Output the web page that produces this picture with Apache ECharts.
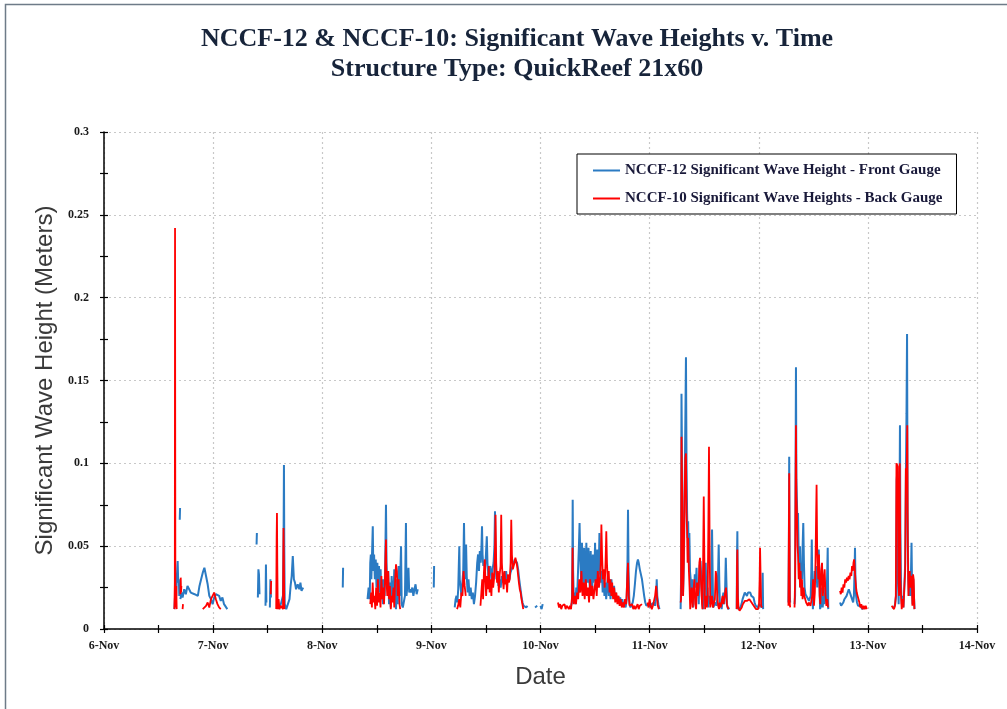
<!DOCTYPE html>
<html>
<head>
<meta charset="utf-8">
<script src="https://cdn.jsdelivr.net/npm/echarts@6/dist/echarts.min.js"></script>
<style>
  html, body { margin: 0; padding: 0; background: #fff; }
  #chart { width: 1007px; height: 709px; }
</style>
</head>
<body>
<div id="chart"></div>
<script>
// time is in days of November, '-' marks a gap in the record
var frontGauge = [
  [6.645,0.012],[6.655,0.025],[6.662,0.02],[6.668,0.032],[6.675,0.041],[6.68,0.028],[6.686,0.03],[6.69,0.02],[6.692,'-'],
  [6.694,0.066],[6.697,0.073],[6.699,'-'],
  [6.70,0.018],[6.71,0.022],[6.72,0.019],[6.735,0.024],[6.75,0.021],[6.765,0.026],[6.78,0.025],[6.795,0.022],[6.81,0.023],
  [6.83,0.021],[6.845,0.022],[6.86,0.02],[6.875,0.026],[6.89,0.03],[6.905,0.034],[6.92,0.037],[6.935,0.032],[6.95,0.027],
  [6.965,0.02],[6.98,0.018],[6.995,0.015],[7.01,0.019],[7.025,0.021],[7.04,0.022],[7.055,0.02],[7.07,0.017],[7.085,0.019],
  [7.10,0.015],[7.115,0.016],[7.13,0.012],[7.14,'-'],
  [7.398,0.051],[7.401,0.058],[7.404,'-'],
  [7.41,0.019],[7.415,0.036],[7.42,0.033],[7.425,0.021],[7.43,'-'],
  [7.48,0.014],[7.484,0.039],[7.488,0.016],[7.492,'-'],
  [7.52,0.013],[7.525,0.03],[7.53,0.019],[7.535,'-'],
  [7.60,0.012],[7.62,0.015],[7.64,0.02],[7.646,0.06],[7.649,0.099],[7.652,0.05],[7.656,0.015],[7.67,0.012],[7.685,0.013],
  [7.70,0.018],[7.71,0.026],[7.72,0.032],[7.73,0.044],[7.74,0.03],[7.75,0.028],[7.76,0.024],[7.775,0.027],[7.79,0.024],
  [7.80,0.028],[7.81,0.023],[7.825,0.025],[7.83,'-'],
  [8.188,0.025],[8.191,0.037],[8.194,'-'],
  [8.415,0.018],[8.425,0.025],[8.435,0.018],[8.44,0.04],[8.445,0.045],[8.45,0.03],[8.458,0.05],[8.463,0.062],[8.468,0.035],
  [8.475,0.045],[8.482,0.03],[8.49,0.042],[8.497,0.025],[8.505,0.04],[8.512,0.02],[8.52,0.038],[8.528,0.022],[8.535,0.036],
  [8.542,0.018],[8.55,0.03],[8.557,0.015],[8.565,0.03],[8.572,0.02],[8.579,0.05],[8.584,0.075],[8.589,0.04],[8.597,0.025],
  [8.605,0.035],[8.612,0.015],[8.62,0.028],[8.628,0.013],[8.636,0.032],[8.644,0.02],[8.652,0.018],[8.66,0.036],[8.668,0.016],
  [8.676,0.012],[8.684,0.03],[8.692,0.015],[8.70,0.038],[8.708,0.02],[8.716,0.035],[8.722,0.05],[8.728,0.015],[8.738,0.013],
  [8.748,0.014],[8.758,0.02],[8.767,0.064],[8.772,0.02],[8.78,0.026],[8.79,0.037],[8.797,0.022],[8.805,0.024],[8.815,0.022],
  [8.825,0.025],[8.835,0.02],[8.845,0.024],[8.855,0.027],[8.865,0.021],[8.875,0.024],[8.88,'-'],
  [9.022,0.025],[9.025,0.038],[9.028,'-'],
  [9.214,0.013],[9.222,0.018],[9.23,0.02],[9.238,0.016],[9.246,0.024],[9.252,0.04],[9.256,0.05],[9.26,0.03],[9.268,0.025],
  [9.276,0.02],[9.284,0.028],[9.292,0.035],[9.299,0.064],[9.304,0.04],[9.312,0.03],[9.318,0.051],[9.324,0.032],[9.332,0.022],
  [9.34,0.03],[9.35,0.02],[9.36,0.025],[9.37,0.018],[9.38,0.022],[9.39,0.015],[9.40,0.02],[9.41,0.028],[9.42,0.04],
  [9.428,0.045],[9.436,0.035],[9.444,0.047],[9.452,0.04],[9.459,0.05],[9.464,0.062],[9.469,0.045],[9.476,0.038],[9.484,0.04],
  [9.492,0.035],[9.50,0.045],[9.508,0.056],[9.514,0.04],[9.522,0.032],[9.53,0.035],[9.54,0.038],[9.55,0.03],[9.56,0.036],
  [9.57,0.04],[9.578,0.05],[9.583,0.071],[9.588,0.04],[9.596,0.03],[9.605,0.033],[9.615,0.026],[9.625,0.03],[9.635,0.025],
  [9.645,0.032],[9.655,0.028],[9.665,0.034],[9.675,0.03],[9.685,0.035],[9.695,0.028],[9.705,0.032],[9.715,0.03],[9.725,0.034],
  [9.735,0.036],[9.745,0.038],[9.755,0.04],[9.765,0.042],[9.775,0.043],[9.785,0.04],[9.795,0.036],[9.805,0.03],[9.815,0.025],
  [9.825,0.02],[9.835,0.016],[9.845,0.014],[9.86,0.015],[9.87,0.013],[9.88,0.014],[9.885,'-'],
  [9.95,0.013],[9.96,0.012],[9.97,0.014],[9.975,'-'],
  [10.00,0.014],[10.01,0.012],[10.02,0.015],[10.025,'-'],
  [10.28,0.014],[10.288,0.016],[10.292,0.04],[10.295,0.078],[10.299,0.035],[10.305,0.018],[10.313,0.022],[10.32,0.015],
  [10.328,0.025],[10.336,0.02],[10.344,0.035],[10.352,0.05],[10.358,0.064],[10.364,0.045],[10.372,0.03],[10.38,0.052],
  [10.386,0.035],[10.394,0.025],[10.40,0.049],[10.406,0.03],[10.414,0.022],[10.42,0.052],[10.426,0.034],[10.434,0.028],
  [10.44,0.049],[10.446,0.03],[10.454,0.024],[10.46,0.047],[10.466,0.03],[10.474,0.022],[10.48,0.045],[10.486,0.028],
  [10.494,0.032],[10.50,0.052],[10.506,0.03],[10.514,0.026],[10.52,0.048],[10.526,0.03],[10.534,0.035],[10.54,0.058],
  [10.546,0.04],[10.554,0.028],[10.562,0.035],[10.57,0.022],[10.578,0.03],[10.586,0.02],[10.594,0.028],[10.602,0.018],
  [10.61,0.026],[10.618,0.032],[10.626,0.02],[10.634,0.025],[10.642,0.018],[10.65,0.03],[10.658,0.022],[10.666,0.02],
  [10.674,0.026],[10.682,0.018],[10.69,0.022],[10.70,0.017],[10.71,0.02],[10.72,0.016],[10.73,0.019],[10.74,0.015],
  [10.75,0.018],[10.76,0.014],[10.77,0.016],[10.78,0.013],[10.79,0.018],[10.797,0.04],[10.802,0.072],[10.807,0.035],
  [10.815,0.015],[10.825,0.013],[10.835,0.014],[10.845,0.016],[10.855,0.02],[10.865,0.027],[10.875,0.035],[10.885,0.04],
  [10.893,0.042],[10.90,0.04],[10.91,0.036],[10.92,0.035],[10.93,0.03],[10.94,0.025],[10.95,0.02],[10.96,0.016],[10.97,0.014],
  [10.98,0.013],[10.99,0.015],[11.00,0.014],[11.01,0.013],[11.02,0.015],[11.03,0.014],[11.04,0.016],[11.05,0.014],[11.06,0.02],
  [11.065,0.03],[11.07,0.02],[11.08,0.015],[11.09,0.012],[11.095,'-'],
  [11.284,0.012],[11.288,0.03],[11.292,0.142],[11.296,0.11],[11.30,0.06],[11.305,0.02],[11.31,0.03],[11.316,0.05],[11.322,0.09],
  [11.328,0.13],[11.333,0.164],[11.338,0.1],[11.343,0.072],[11.348,0.055],[11.353,0.065],[11.358,0.045],[11.364,0.058],
  [11.37,0.035],[11.376,0.03],[11.382,0.02],[11.39,0.03],[11.398,0.013],[11.406,0.02],[11.414,0.033],[11.422,0.025],
  [11.43,0.037],[11.436,0.02],[11.442,0.028],[11.45,0.015],[11.458,0.038],[11.466,0.041],[11.474,0.03],[11.482,0.015],
  [11.49,0.012],[11.498,0.02],[11.506,0.035],[11.514,0.04],[11.522,0.014],[11.53,0.025],[11.538,0.013],[11.546,0.02],
  [11.554,0.015],[11.562,0.018],[11.568,0.035],[11.572,0.06],[11.577,0.035],[11.582,0.013],[11.59,0.014],[11.598,0.013],
  [11.606,0.016],[11.614,0.014],[11.622,0.02],[11.628,0.035],[11.633,0.051],[11.638,0.03],[11.645,0.013],[11.652,0.015],
  [11.66,0.012],[11.668,0.018],[11.676,0.022],[11.684,0.015],[11.692,0.025],[11.698,0.043],[11.703,0.03],[11.71,0.014],
  [11.72,0.012],[11.73,0.013],[11.738,'-'],
  [11.798,0.012],[11.801,0.045],[11.804,0.059],[11.807,0.03],[11.812,0.012],[11.822,0.011],[11.832,0.013],[11.842,0.015],
  [11.852,0.018],[11.862,0.02],[11.872,0.022],[11.882,0.021],[11.892,0.02],[11.902,0.022],[11.912,0.021],[11.922,0.022],
  [11.932,0.02],[11.942,0.021],[11.952,0.019],[11.962,0.016],[11.972,0.014],[11.982,0.015],[11.992,0.013],[12.002,0.015],
  [12.012,0.014],[12.02,0.016],[12.026,0.013],[12.032,0.02],[12.036,0.034],[12.04,0.012],[12.045,'-'],
  [12.272,0.016],[12.276,0.05],[12.279,0.104],[12.282,0.06],[12.285,0.02],[12.288,0.016],[12.29,'-'],
  [12.328,0.015],[12.333,0.02],[12.337,0.09],[12.341,0.158],[12.345,0.09],[12.35,0.077],[12.355,0.06],[12.36,0.07],
  [12.366,0.045],[12.372,0.035],[12.378,0.05],[12.384,0.025],[12.39,0.04],[12.396,0.03],[12.402,0.05],[12.408,0.064],
  [12.414,0.04],[12.42,0.025],[12.428,0.021],[12.436,0.02],[12.444,0.019],[12.452,0.018],[12.46,0.017],[12.468,0.016],
  [12.476,0.02],[12.482,0.035],[12.486,0.054],[12.49,0.03],[12.496,0.012],[12.504,0.02],[12.512,0.035],[12.52,0.03],
  [12.528,0.038],[12.536,0.025],[12.544,0.04],[12.55,0.048],[12.556,0.03],[12.562,0.012],[12.57,0.014],[12.578,0.025],
  [12.586,0.013],[12.594,0.02],[12.602,0.015],[12.61,0.025],[12.618,0.018],[12.626,0.03],[12.632,0.049],[12.637,0.012],[12.64,'-'],
  [12.745,0.016],[12.755,0.014],[12.765,0.015],[12.775,0.016],[12.785,0.018],[12.795,0.019],[12.805,0.02],[12.815,0.022],
  [12.825,0.024],[12.835,0.022],[12.845,0.02],[12.855,0.018],[12.865,0.016],[12.872,0.02],[12.878,0.035],[12.882,0.049],
  [12.886,0.03],[12.892,0.02],[12.90,0.016],[12.91,0.014],[12.92,0.013],[12.93,0.014],[12.94,0.013],[12.95,0.012],[12.96,0.013],[12.97,'-'],
  [13.22,0.013],[13.23,0.014],[13.24,0.013],[13.25,0.015],[13.258,0.02],[13.264,0.09],[13.27,0.095],[13.276,0.03],[13.282,0.015],
  [13.288,0.05],[13.294,0.123],[13.298,0.06],[13.304,0.025],[13.31,0.015],[13.318,0.02],[13.326,0.013],[13.334,0.025],
  [13.342,0.04],[13.348,0.09],[13.354,0.13],[13.359,0.178],[13.364,0.07],[13.37,0.03],[13.376,0.02],[13.382,0.035],
  [13.388,0.02],[13.394,0.03],[13.40,0.052],[13.405,0.025],[13.41,0.015],[13.416,0.03],[13.422,0.02],[13.428,0.012],[13.432,'-']
];

var backGauge = [
  [6.645,0.012],[6.649,0.028],[6.651,0.242],[6.654,0.02],[6.658,0.013],[6.662,0.026],[6.666,0.012],[6.672,'-'],
  [6.70,0.021],[6.703,0.031],[6.706,0.022],[6.709,0.026],[6.712,'-'],
  [6.72,0.012],[6.724,0.015],[6.728,'-'],
  [6.905,0.012],[6.92,0.013],[6.935,0.014],[6.95,0.016],[6.965,0.013],[6.98,0.018],[6.995,0.02],[7.01,0.022],[7.025,0.018],
  [7.04,0.015],[7.055,0.013],[7.07,0.012],[7.08,'-'],
  [7.528,0.021],[7.532,0.029],[7.536,'-'],
  [7.578,0.012],[7.582,0.055],[7.585,0.07],[7.588,0.04],[7.592,0.012],[7.60,0.018],[7.608,0.012],[7.62,0.014],[7.64,0.012],
  [7.645,0.061],[7.648,0.045],[7.652,0.012],[7.66,'-'],
  [8.44,0.015],[8.448,0.022],[8.455,0.013],[8.462,0.028],[8.47,0.016],[8.478,0.02],[8.486,0.012],[8.494,0.025],[8.502,0.014],
  [8.51,0.03],[8.518,0.016],[8.526,0.022],[8.534,0.013],[8.542,0.032],[8.55,0.018],[8.558,0.025],[8.566,0.015],[8.574,0.028],
  [8.58,0.045],[8.584,0.054],[8.588,0.03],[8.596,0.02],[8.604,0.035],[8.612,0.018],[8.62,0.026],[8.628,0.012],[8.636,0.02],
  [8.644,0.016],[8.652,0.025],[8.66,0.013],[8.668,0.03],[8.676,0.039],[8.684,0.035],[8.692,0.02],[8.70,0.03],[8.708,0.015],
  [8.714,0.012],[8.72,'-'],
  [9.235,0.012],[9.245,0.014],[9.255,0.018],[9.265,0.013],[9.275,0.022],[9.285,0.02],[9.295,0.035],[9.305,0.026],[9.315,0.02],[9.325,'-'],
  [9.45,0.014],[9.458,0.022],[9.466,0.03],[9.474,0.018],[9.482,0.035],[9.49,0.042],[9.496,0.028],[9.502,0.02],[9.51,0.032],
  [9.518,0.024],[9.526,0.038],[9.534,0.022],[9.542,0.03],[9.55,0.02],[9.558,0.034],[9.566,0.025],[9.574,0.03],[9.582,0.045],
  [9.588,0.069],[9.594,0.04],[9.602,0.028],[9.61,0.035],[9.618,0.022],[9.626,0.033],[9.634,0.038],[9.64,0.069],[9.646,0.04],
  [9.654,0.03],[9.662,0.024],[9.67,0.035],[9.678,0.027],[9.686,0.03],[9.694,0.022],[9.702,0.033],[9.71,0.028],[9.718,0.03],
  [9.726,0.04],[9.732,0.066],[9.738,0.045],[9.746,0.036],[9.754,0.038],[9.762,0.04],[9.77,0.043],[9.778,0.042],[9.786,0.038],
  [9.794,0.033],[9.802,0.028],[9.81,0.024],[9.818,0.022],[9.826,0.018],[9.834,0.015],[9.842,0.012],[9.85,'-'],
  [10.16,0.016],[10.17,0.013],[10.18,0.015],[10.19,0.012],[10.20,0.014],[10.21,0.013],[10.22,0.015],[10.23,0.012],[10.24,0.014],
  [10.25,0.013],[10.26,0.012],[10.27,0.014],[10.28,0.012],[10.29,0.02],[10.294,0.049],[10.298,0.025],[10.305,0.015],
  [10.315,0.02],[10.325,0.015],[10.335,0.022],[10.345,0.018],[10.355,0.03],[10.365,0.022],[10.375,0.035],[10.385,0.02],
  [10.395,0.028],[10.405,0.018],[10.415,0.03],[10.425,0.02],[10.435,0.025],[10.445,0.016],[10.455,0.03],[10.465,0.02],
  [10.475,0.026],[10.485,0.018],[10.495,0.024],[10.505,0.03],[10.515,0.02],[10.525,0.035],[10.535,0.025],[10.545,0.03],
  [10.552,0.04],[10.558,0.063],[10.564,0.045],[10.572,0.03],[10.58,0.036],[10.588,0.025],[10.596,0.04],[10.603,0.059],
  [10.609,0.04],[10.617,0.028],[10.625,0.035],[10.633,0.022],[10.641,0.03],[10.649,0.02],[10.657,0.028],[10.665,0.018],
  [10.675,0.025],[10.685,0.016],[10.695,0.022],[10.705,0.015],[10.715,0.02],[10.725,0.014],[10.735,0.018],[10.745,0.013],
  [10.755,0.016],[10.765,0.013],[10.775,0.018],[10.785,0.015],[10.795,0.03],[10.802,0.04],[10.808,0.02],[10.818,0.014],
  [10.83,0.013],[10.84,0.015],[10.85,0.012],[10.86,0.014],[10.87,0.012],[10.88,0.013],[10.89,0.015],[10.90,0.012],
  [10.91,0.014],[10.92,0.013],[10.93,0.015],[10.94,'-'],
  [10.98,0.016],[10.99,0.013],[11.00,0.018],[11.01,0.014],[11.02,0.012],[11.03,0.014],[11.04,0.017],[11.05,0.02],[11.06,0.026],
  [11.067,0.02],[11.075,0.014],[11.085,0.012],[11.09,'-'],
  [11.284,0.016],[11.288,0.018],[11.292,0.116],[11.297,0.09],[11.302,0.05],[11.307,0.02],[11.313,0.04],[11.32,0.08],
  [11.327,0.103],[11.333,0.106],[11.338,0.07],[11.343,0.06],[11.348,0.04],[11.353,0.055],[11.36,0.035],[11.366,0.025],
  [11.372,0.012],[11.378,0.02],[11.386,0.025],[11.394,0.013],[11.402,0.022],[11.41,0.03],[11.418,0.015],[11.426,0.012],
  [11.434,0.028],[11.442,0.02],[11.45,0.025],[11.456,0.04],[11.462,0.043],[11.468,0.042],[11.476,0.02],[11.484,0.012],
  [11.49,0.04],[11.496,0.08],[11.502,0.04],[11.508,0.012],[11.516,0.02],[11.524,0.013],[11.532,0.02],[11.538,0.06],
  [11.544,0.11],[11.55,0.05],[11.556,0.013],[11.564,0.012],[11.572,0.02],[11.58,0.013],[11.59,0.012],[11.598,0.018],
  [11.606,0.035],[11.612,0.032],[11.62,0.02],[11.628,0.014],[11.636,0.012],[11.644,0.016],[11.652,0.013],[11.66,0.012],
  [11.668,0.02],[11.676,0.015],[11.684,0.018],[11.692,0.022],[11.70,0.025],[11.708,0.015],[11.716,0.013],[11.724,0.012],
  [11.73,0.013],[11.735,'-'],
  [11.798,0.012],[11.801,0.04],[11.804,0.048],[11.808,0.02],[11.814,0.013],[11.824,0.011],[11.834,0.012],[11.844,0.013],
  [11.854,0.015],[11.864,0.016],[11.874,0.017],[11.884,0.016],[11.894,0.017],[11.904,0.016],[11.914,0.018],[11.924,0.017],
  [11.934,0.016],[11.944,0.015],[11.954,0.014],[11.964,0.013],[11.974,0.012],[11.984,0.013],[11.994,0.012],[12.002,0.014],
  [12.008,0.03],[12.012,0.049],[12.016,0.035],[12.022,0.014],[12.03,0.013],[12.035,'-'],
  [12.272,0.014],[12.276,0.06],[12.279,0.094],[12.282,0.05],[12.285,0.015],[12.288,0.013],[12.29,'-'],
  [12.328,0.013],[12.333,0.03],[12.337,0.08],[12.341,0.123],[12.345,0.08],[12.35,0.07],[12.355,0.05],[12.36,0.045],
  [12.366,0.03],[12.372,0.04],[12.378,0.025],[12.384,0.035],[12.39,0.02],[12.396,0.03],[12.402,0.018],[12.41,0.025],
  [12.418,0.02],[12.426,0.018],[12.434,0.016],[12.442,0.015],[12.45,0.014],[12.458,0.016],[12.466,0.015],[12.474,0.014],
  [12.482,0.013],[12.49,0.02],[12.498,0.03],[12.506,0.014],[12.514,0.022],[12.52,0.04],[12.526,0.07],[12.53,0.087],
  [12.535,0.05],[12.54,0.04],[12.546,0.03],[12.552,0.045],[12.558,0.02],[12.564,0.015],[12.572,0.035],[12.58,0.04],
  [12.588,0.02],[12.596,0.03],[12.604,0.036],[12.612,0.02],[12.62,0.014],[12.628,0.018],[12.634,0.013],[12.64,'-'],
  [12.745,0.023],[12.752,0.021],[12.76,0.025],[12.768,0.022],[12.776,0.027],[12.784,0.025],[12.792,0.03],[12.80,0.028],
  [12.808,0.031],[12.816,0.029],[12.824,0.032],[12.832,0.03],[12.84,0.034],[12.848,0.032],[12.855,0.038],[12.862,0.035],
  [12.868,0.04],[12.874,0.042],[12.88,0.036],[12.886,0.03],[12.892,0.025],[12.898,0.022],[12.906,0.02],[12.914,0.018],
  [12.922,0.016],[12.93,0.013],[12.94,0.015],[12.95,0.012],[12.96,0.014],[12.97,0.012],[12.98,0.014],[12.99,0.012],[12.995,'-'],
  [13.218,0.014],[13.225,0.013],[13.232,0.015],[13.24,0.012],[13.248,0.014],[13.256,0.02],[13.262,0.1],[13.268,0.1],
  [13.274,0.098],[13.28,0.03],[13.286,0.02],[13.292,0.1],[13.298,0.03],[13.304,0.02],[13.31,0.012],[13.318,0.018],
  [13.326,0.013],[13.334,0.025],[13.342,0.035],[13.348,0.097],[13.354,0.09],[13.361,0.123],[13.366,0.05],[13.372,0.02],
  [13.378,0.03],[13.384,0.035],[13.39,0.025],[13.396,0.032],[13.402,0.03],[13.408,0.014],[13.414,0.033],[13.42,0.03],
  [13.426,0.012],[13.432,'-']
];

var seriesNames = [
  'NCCF-12 Significant Wave Height - Front Gauge',
  'NCCF-10 Significant Wave Heights - Back Gauge'
];
var monthTag = 'Nov';

var serif = '"Liberation Serif", "DejaVu Serif", serif';
var chart = echarts.init(document.getElementById('chart'));

// Excel draws "cross" ticks, so each axis gets a second copy with inside ticks
function tickAxisX(inside) {
  return {
    type: 'value', min: 6, max: 14, interval: 1, position: 'bottom',
    axisLine: { show: !inside, lineStyle: { color: '#000', width: 1.5 } },
    axisTick: { show: true, inside: inside, length: 4, lineStyle: { color: '#000', width: 1.2 } },
    minorTick: { show: true, splitNumber: 2, length: 4, lineStyle: { color: '#000', width: 1.2 } },
    axisLabel: { show: false },
    splitLine: { show: false }
  };
}
function tickAxisY(inside) {
  return {
    type: 'value', min: 0, max: 0.3, interval: 0.05, position: 'left',
    axisLine: { show: !inside, lineStyle: { color: '#000', width: 1.5 } },
    axisTick: { show: true, inside: inside, length: 4, lineStyle: { color: '#000', width: 1.2 } },
    minorTick: { show: true, splitNumber: 2, length: 4, lineStyle: { color: '#000', width: 1.2 } },
    axisLabel: { show: false },
    splitLine: { show: false }
  };
}

var xMain = tickAxisX(false);
xMain.name = 'Date';
xMain.nameLocation = 'middle';
xMain.nameGap = 36;
xMain.nameTextStyle = { fontFamily: '"Liberation Sans", sans-serif', fontSize: 24, color: '#3a3a3a' };
xMain.axisLabel = {
  show: true, margin: 11, fontFamily: serif, fontWeight: 'bold', fontSize: 12, color: '#1a1a1a',
  formatter: function (v) { return v + '-' + monthTag; }
};
xMain.splitLine = { show: true, lineStyle: { color: '#c8c8c8', type: [2, 3], width: 1.2 } };

var yMain = tickAxisY(false);
yMain.name = 'Significant Wave Height (Meters)';
yMain.nameLocation = 'middle';
yMain.nameGap = 45;
yMain.nameTextStyle = { fontFamily: '"Liberation Sans", sans-serif', fontSize: 24, color: '#3a3a3a' };
yMain.axisLabel = {
  show: true, margin: 15, fontFamily: serif, fontWeight: 'bold', fontSize: 12, color: '#1a1a1a',
  formatter: function (v) { return String(+v.toFixed(2)); }
};
yMain.splitLine = { show: true, lineStyle: { color: '#c8c8c8', type: [2, 3], width: 1.2 } };

chart.setOption({
  backgroundColor: '#fff',
  animation: false,
  title: {
    text: 'NCCF-12 & NCCF-10: Significant Wave Heights v. Time\nStructure Type: QuickReef 21x60',
    left: 512, top: 19, textAlign: 'center',
    textStyle: { fontFamily: serif, fontWeight: 'bold', fontSize: 26, lineHeight: 30, color: '#17243a' }
  },
  legend: {
    orient: 'vertical', left: 577, top: 154,
    padding: [9, 14, 8, 16], itemGap: 13,
    itemWidth: 27, itemHeight: 2, icon: 'rect',
    borderColor: '#000', borderWidth: 1, backgroundColor: '#fff',
    textStyle: { fontFamily: serif, fontWeight: 'bold', fontSize: 15, color: '#1a1a3a' },
    data: seriesNames
  },
  grid: { left: 104, right: 30, top: 132, bottom: 80 },
  xAxis: [xMain, tickAxisX(true)],
  yAxis: [yMain, tickAxisY(true)],
  graphic: [{
    type: 'rect', left: 3, top: 2, silent: true,
    shape: { width: 1020, height: 720 },
    style: { fill: 'none', stroke: '#6e7b88', lineWidth: 1.5 }
  }],
  series: [
    {
      name: seriesNames[0], type: 'line', data: frontGauge,
      showSymbol: false, symbol: 'none', connectNulls: false,
      lineStyle: { color: '#2b7bc3', width: 2 }, itemStyle: { color: '#2b7bc3' }
    },
    {
      name: seriesNames[1], type: 'line', data: backGauge,
      showSymbol: false, symbol: 'none', connectNulls: false,
      lineStyle: { color: '#ff0000', width: 1.8 }, itemStyle: { color: '#ff0000' }
    }
  ]
});
</script>
</body>
</html>
